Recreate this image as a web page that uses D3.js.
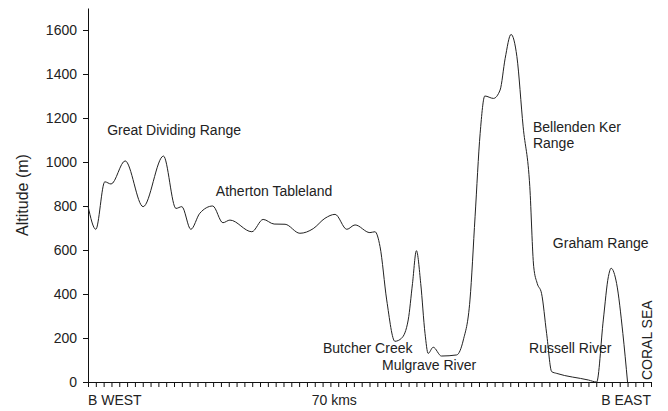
<!DOCTYPE html>
<html>
<head>
<meta charset="utf-8">
<script src="https://cdn.jsdelivr.net/npm/d3@7"></script>
<style>
  body { margin: 0; background: #fff; }
  svg text { font-family: "Liberation Sans", Arial, sans-serif; fill: #222; }
</style>
</head>
<body>
<div id="chart"></div>
<script>
// profile: distance along the section (km) and altitude (m)
const distanceKm = [0, 2.0, 4.3, 5.9, 9.5, 14.1, 19.3, 22.5, 24.0, 26.3, 28.6, 31.9, 34.5, 36.3,
    41.9, 44.8, 47.6, 50.4, 54.2, 57.6, 60.6, 63.2, 66.2, 68.3, 72.1, 73.4, 74.7, 76.4, 78.5,
    80.2, 81.9, 83.0, 84.0, 85.1, 86.2, 87.0, 88.3, 90.4, 94.3, 96.0, 97.7, 99.0, 100.3, 101.5,
    103.7, 105.4, 106.7, 108.2, 109.7, 111.3, 113.0, 114.0, 114.9, 116.0, 117.3, 118.6, 119.9,
    128.0, 130.1, 131.8, 133.1, 133.8, 135.2, 136.8, 138.0];
const altitudeM = [800, 694, 910, 900, 1005, 797, 1027, 789, 797, 694, 767, 800, 724, 736,
    683, 739, 718, 717, 676, 697, 744, 762, 694, 714, 679, 683, 615, 373, 185,
    199, 282, 448, 597, 448, 221, 130, 158, 118, 123, 191, 373, 751, 1130, 1300,
    1289, 1327, 1471, 1580, 1479, 1160, 888, 524, 448, 403, 221, 47, 39,
    9, 0, 282, 479, 517, 448, 221, 0];

const yTicks = [0, 200, 400, 600, 800, 1000, 1200, 1400, 1600];
const xTickStepKm = 2;
const xLabels = ["B WEST", "70 kms", "B EAST"];
const xLabelKm = [0, 63, 144];

const placeNames = ["Great Dividing Range", "Atherton Tableland", "Butcher Creek", "Mulgrave River",
    "Bellenden Ker", "Range", "Graham Range", "Russell River"];
const placeKm = [4.9, 32.7, 60.1, 75.2, 113.8, 113.8, 118.9, 112.8];
const placeAlt = [1123, 845, 132, 55, 1136, 1064, 609, 132];

const width = 668, height = 411;
const margin = { top: 8, right: 17, bottom: 29, left: 88 };

const svg = d3.select("#chart").append("svg")
    .attr("width", width)
    .attr("height", height);

const x = d3.scaleLinear()
    .domain([0, 144])
    .range([margin.left, width - margin.right]);

const y = d3.scaleLinear()
    .domain([0, 1700])
    .range([height - margin.bottom, margin.top]);

// y axis
const yAxis = svg.append("g")
    .attr("transform", "translate(" + margin.left + ",0)")
    .call(d3.axisLeft(y)
        .tickValues(yTicks)
        .tickFormat(d3.format("d"))
        .tickSize(5)
        .tickSizeOuter(0)
        .tickPadding(6));
yAxis.selectAll("text").style("font-size", "14px");

// x axis, ticks only
svg.append("g")
    .attr("transform", "translate(0," + y(0) + ")")
    .call(d3.axisBottom(x)
        .tickValues(d3.range(0, 144 + 0.01, xTickStepKm))
        .tickFormat("")
        .tickSize(5)
        .tickSizeOuter(0));

svg.selectAll(".domain, .tick line")
    .attr("stroke", "#111")
    .attr("stroke-width", 1);

svg.selectAll(".x-label")
    .data(xLabels)
    .enter()
    .append("text")
    .attr("class", "x-label")
    .attr("x", (d, i) => x(xLabelKm[i]))
    .attr("y", y(0) + 23)
    .attr("text-anchor", (d, i) => i === 0 ? "start" : (i === xLabels.length - 1 ? "end" : "middle"))
    .style("font-size", "14px")
    .text(d => d);

svg.append("text")
    .attr("transform", "translate(22," + (margin.top + y(0)) / 2 + ")rotate(-90)")
    .attr("text-anchor", "middle")
    .attr("dy", "0.35em")
    .style("font-size", "16px")
    .text("Altitude (m)");

// the profile
const line = d3.line()
    .x((d, i) => x(distanceKm[i]))
    .y(d => y(d))
    .curve(d3.curveMonotoneX);

svg.append("path")
    .datum(altitudeM)
    .attr("fill", "none")
    .attr("stroke", "#222")
    .attr("stroke-width", 1)
    .attr("d", line);

// place names
svg.selectAll(".place")
    .data(placeNames)
    .enter()
    .append("text")
    .attr("class", "place")
    .attr("x", (d, i) => x(placeKm[i]))
    .attr("y", (d, i) => y(placeAlt[i]))
    .style("font-size", "14px")
    .text(d => d);

svg.append("text")
    .attr("transform", "translate(" + (x(144) + 1) + "," + (y(0) - 2) + ")rotate(-90)")
    .style("font-size", "14px")
    .text("CORAL SEA");
</script>
</body>
</html>
